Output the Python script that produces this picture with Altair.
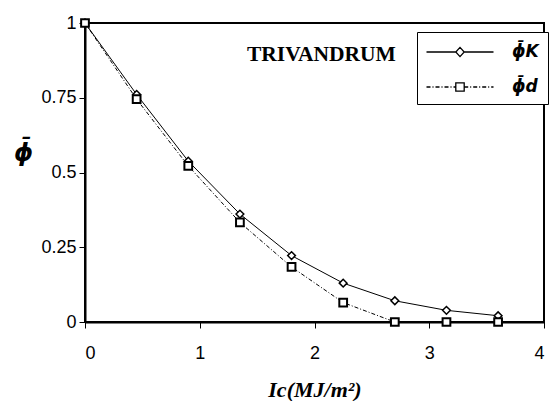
import altair as alt
import pandas as pd

# ---- data ----
ic = [0, 0.45, 0.9, 1.35, 1.8, 2.25, 2.7, 3.15, 3.6]
phi_k = [1.0, 0.761, 0.538, 0.361, 0.222, 0.130, 0.071, 0.039, 0.021]
phi_d = [1.0, 0.745, 0.522, 0.333, 0.184, 0.065, 0.0, 0.0, 0.0]
series_names = ["ϕ̄K", "ϕ̄d"]
x_ticks = [0, 1, 2, 3, 4]
y_ticks = [0, 0.25, 0.5, 0.75, 1]

rows = []
for x, a, b in zip(ic, phi_k, phi_d):
    rows.append({"Ic": x, "phi": a, "series": series_names[0]})
    rows.append({"Ic": x, "phi": b, "series": series_names[1]})
df = pd.DataFrame(rows)

# legend symbols: line + marker drawn as SVG paths; 10 px per path unit
unit = 10.0
half = 33.5 / unit          # half length of the legend line
m = 4.2 / unit              # marker half size


def dashdot_segments(x0, x1):
    pat = [4, 2, 1, 2]
    segs = []
    x = x0
    i = 0
    while x < x1:
        ln = pat[i % 4] / unit
        if i % 2 == 0:
            segs.append("M%.3f,0H%.3f" % (x, min(x + ln, x1)))
        x += ln
        i += 1
    return "".join(segs)


path_k = "M%.3f,0H%.3fM%.3f,0H%.3fM0,-%.3fL%.3f,0L0,%.3fL-%.3f,0Z" % (
    -half, -m, m, half, m * 1.1, m, m * 1.1, m)
path_d = dashdot_segments(-half, -m) + dashdot_segments(m, half) + \
    "M-%.3f,-%.3fH%.3fV%.3fH-%.3fZ" % (m, m, m, m, m)

xs = alt.X("Ic:Q", scale=alt.Scale(domain=[0, 4], nice=False),
           axis=alt.Axis(values=x_ticks, title="Ic(MJ/m²)", grid=False,
                         tickSize=6, labelPadding=16, format="d",
                         titleFont="Liberation Serif", titleFontSize=22,
                         titleFontWeight="bold", titleFontStyle="italic",
                         titleY=74, titleBaseline="alphabetic"))
ys = alt.Y("phi:Q", scale=alt.Scale(domain=[0, 1], nice=False),
           axis=alt.Axis(values=y_ticks, title="ϕ̄", grid=False, tickSize=6,
                         labelPadding=3, labelExpr="datum.value == 0 || datum.value == 1 ? format(datum.value, 'd') : datum.value == 0.5 ? '0.5' : format(datum.value, '.2f')",
                         titleAngle=0, titleX=-62, titleY=130, titleAlign="center",
                         titleBaseline="middle", titleFont="DejaVu Sans",
                         titleFontSize=24, titleFontWeight="bold",
                         titleFontStyle="italic"))

line_k = alt.Chart(df).transform_filter(alt.datum.series == series_names[0]).mark_line(
    color="black", strokeWidth=1).encode(x=xs, y=ys)
line_d = alt.Chart(df).transform_filter(alt.datum.series == series_names[1]).mark_line(
    color="black", strokeWidth=1, strokeDash=[4, 2, 1, 2]).encode(x="Ic:Q", y="phi:Q")

pts_k = alt.Chart(df).transform_filter(alt.datum.series == series_names[0]).mark_point(
    shape="diamond", size=60, fill="white", stroke="black", strokeWidth=1.5, opacity=1
).encode(x="Ic:Q", y="phi:Q")

pts_d = alt.Chart(df).transform_filter(alt.datum.series == series_names[1]).mark_point(
    shape="square", size=60, fill="white", stroke="black", strokeWidth=2, opacity=1
).encode(x="Ic:Q", y="phi:Q")

legend_holder = alt.Chart(df).mark_point(size=0, strokeOpacity=0, fillOpacity=0).encode(
    x="Ic:Q", y="phi:Q",
    shape=alt.Shape("series:N",
                    scale=alt.Scale(domain=series_names, range=[path_k, path_d]),
                    legend=alt.Legend(title=None, orient="none", legendX=332, legendY=9,
                                      padding=9, strokeColor="black", fillColor="white",
                                      symbolSize=int((2 * unit) ** 2),
                                      symbolOffset=23,
                                      symbolFillColor="white", symbolStrokeColor="black",
                                      symbolStrokeWidth=1.3, symbolOpacity=1,
                                      labelFont="DejaVu Sans", labelFontSize=17,
                                      labelFontWeight="bold", labelFontStyle="italic",
                                      labelOffset=41, rowPadding=16)),
)

chart = alt.layer(line_k, line_d, legend_holder, pts_k, pts_d).properties(
    width=459, height=299,
    title=alt.TitleParams("TRIVANDRUM", anchor="start", frame="group", dx=162,
                          dy=30, offset=-32, baseline="middle", font="Liberation Serif",
                          fontSize=21.5, fontWeight="bold", color="black"),
    autosize=alt.AutoSizeParams(type="none"),
    padding={"left": 85, "top": 23, "right": 11, "bottom": 79},
).configure_view(stroke="black", strokeWidth=2).configure_axis(
    domainColor="black", domainWidth=2, tickColor="black", tickWidth=1,
    labelColor="black", titleColor="black", labelFont="Liberation Sans",
    labelFontSize=18,
).configure_legend(labelColor="black")

chart.save("out.html", embed_options={"renderer": "svg", "actions": False})
